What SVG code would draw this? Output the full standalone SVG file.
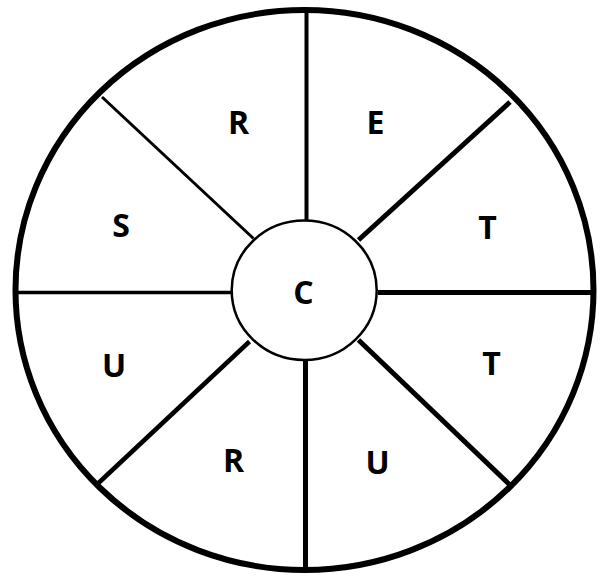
<svg xmlns="http://www.w3.org/2000/svg" width="606" height="578" viewBox="0 0 606 578">
  <style>
    .lbl { font-family: "Open Sans", "Liberation Sans", sans-serif; font-weight: bold; font-size: 32px; fill: #000; text-anchor: middle; }
    .ring { fill: none; stroke: #000; }
    .spoke { stroke: #000; stroke-linecap: butt; fill: none; }
  </style>
  <rect width="606" height="578" fill="#fff"/>
  <g id="outer">
    <ellipse class="ring" cx="304.5" cy="290" rx="289" ry="280" stroke-width="6"/>
  </g>
  <g id="connectors">
    <line class="spoke" x1="306.5" y1="12" x2="306.5" y2="221" stroke-width="4"/>
    <line class="spoke" x1="102" y1="97" x2="253.5" y2="238.5" stroke-width="3"/>
    <line class="spoke" x1="510" y1="102" x2="358.5" y2="240" stroke-width="5"/>
    <line class="spoke" x1="17" y1="292.5" x2="231" y2="292.5" stroke-width="3.5"/>
    <line class="spoke" x1="378" y1="292.5" x2="592" y2="292.5" stroke-width="5"/>
    <line class="spoke" x1="98.5" y1="483" x2="249.5" y2="341.5" stroke-width="4.5"/>
    <line class="spoke" x1="511.5" y1="486.5" x2="358.5" y2="340" stroke-width="5"/>
    <line class="spoke" x1="305.5" y1="361" x2="305.5" y2="569" stroke-width="5"/>
  </g>
  <g id="center">
    <ellipse cx="304.2" cy="290.3" rx="72.5" ry="69.7" fill="#fff" stroke="#000" stroke-width="2.5"/>
    <text class="lbl" x="303.5" y="303.5">C</text>
  </g>
  <g id="seg-r-top"><text class="lbl" x="238.5" y="133.5">R</text></g>
  <g id="seg-e"><text class="lbl" x="375.5" y="133.5">E</text></g>
  <g id="seg-t-upper"><text class="lbl" x="487.5" y="238.5">T</text></g>
  <g id="seg-t-lower"><text class="lbl" x="491.5" y="375">T</text></g>
  <g id="seg-u-lower"><text class="lbl" x="377.5" y="473.5">U</text></g>
  <g id="seg-r-lower"><text class="lbl" x="233.5" y="471.5">R</text></g>
  <g id="seg-u-left"><text class="lbl" x="114" y="376.5">U</text></g>
  <g id="seg-s"><text class="lbl" x="121" y="236.5">S</text></g>
</svg>
